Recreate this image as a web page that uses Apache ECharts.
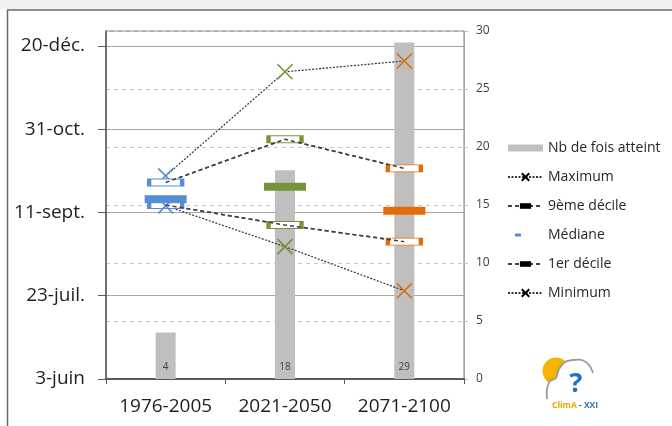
<!DOCTYPE html>
<html><head><meta charset="utf-8">
<script src="https://cdn.jsdelivr.net/npm/echarts@6/dist/echarts.min.js"></script>
<style>html,body{margin:0;padding:0;background:#fff}#c{width:672px;height:426px}</style>
</head><body><div id="c"></div>
<script>
// ---- data ----
const categories = ['1976-2005', '2021-2050', '2071-2100'];
const dateTickLabels = ['3-juin', '23-juil.', '11-sept.', '31-oct.', '20-déc.']; // every 50 days from 3 June
const countTickStep = 5;
// dates expressed as number of days after 3 June
const maximum = [122, 184.5, 191];
const decile9 = [118, 144, 126.5];
const mediane = [108, 115.5, 101];
const decile1 = [104.5, 92.5, 82.5];
const minimum = [104, 79.5, 53];
const nbAtteint = [4, 18, 29];

// ---- styles ----
const periodColors = ['#558ED5', '#77933C', '#E36C09'];
const FONT = 'Open Sans';
const X_PATH = 'path://M0,0L10,10M10,0L0,10';
const X_LEGEND = 'path://M-2.5,-2.5M0,0L10,10M10,0L0,10M12.5,12.5';
const BAR_ICON = 'path://M0,0M0,3.5h10v7h-10zM10,14';

const chart = echarts.init(document.getElementById('c'), null, {renderer: 'canvas'});

function xItems(arr) {
  return arr.map((v, i) => ({value: v, symbol: X_PATH, symbolSize: 15,
    itemStyle: {color: periodColors[i], borderColor: periodColors[i], borderWidth: 1.6}}));
}
function boxItems(arr) {
  return arr.map((v, i) => ({value: v, symbol: 'rect', symbolSize: [33, 7],
    itemStyle: {color: '#ffffff', borderColor: periodColors[i], borderWidth: 2}}));
}
const dotted = {color: '#333333', width: 1.2, type: [2, 1.5]};
const dashed = {color: '#404040', width: 1.5, type: [4, 3]};

const cloudPts = [[547,389],[550,381],[556,378],[559,369],[565,362],[573,360],[582,360],[589,365],[593,373]];

const option = {
  animation: false,
  backgroundColor: '#ffffff',
  textStyle: {fontFamily: FONT},
  graphic: [
    {type: 'rect', shape: {x: 0, y: 0, width: 672, height: 9}, style: {fill: '#f0f0f0'}, silent: true},
    {type: 'line', shape: {x1: 7, y1: 10, x2: 672, y2: 10}, style: {stroke: '#6b6b6b', lineWidth: 1.5}, silent: true},
    {type: 'line', shape: {x1: 7.5, y1: 10, x2: 7.5, y2: 426}, style: {stroke: '#6b6b6b', lineWidth: 1.5}, silent: true},
    // logo
    {type: 'circle', shape: {cx: 556, cy: 371, r: 13.5}, style: {fill: '#F5B400'}, silent: true},
    {type: 'polygon', shape: {points: [[547,399]].concat(cloudPts, [[593,399]]), smooth: 0.3},
      style: {fill: '#ffffff', stroke: 'none'}, silent: true},
    {type: 'polyline', shape: {points: [[547,399]].concat(cloudPts), smooth: 0.3},
      style: {fill: 'none', stroke: '#9a9a9a', lineWidth: 1.8}, silent: true},
    {type: 'text', style: {x: 576, y: 384, text: '?', fill: '#1F72C4', font: 'bold 27px Open Sans', textAlign: 'center', textVerticalAlign: 'middle'}, silent: true},
    {type: 'text', style: {x: 552, y: 406, text: 'ClimA', fill: '#F0A800', font: 'bold 8.5px Open Sans', textVerticalAlign: 'middle'}, silent: true},
    {type: 'text', style: {x: 579, y: 406, text: '- XXI', fill: '#2E74B5', font: 'bold 8.5px Open Sans', textVerticalAlign: 'middle'}, silent: true}
  ],
  legend: {
    orient: 'vertical', left: 507, top: 141, padding: 0, itemWidth: 35, itemHeight: 14, itemGap: 15,
    selectedMode: false,
    textStyle: {fontFamily: FONT, fontSize: 14, color: '#262626'},
    data: [
      {name: 'Nb de fois atteint', icon: 'path://M0,0M0,3.5h35v7h-35zM35,14'},
      'Maximum', '9ème décile',
      {name: 'Médiane', icon: 'path://M0,0M7,5.5h6v3h-6zM35,14', itemStyle: {color: '#558ED5', opacity: 1}},
      '1er décile', 'Minimum'
    ]
  },
  grid: {left: 106, right: 208, top: 31, bottom: 47, show: true, borderColor: '#808080', borderWidth: 1, backgroundColor: 'transparent'},
  xAxis: {
    type: 'category', data: categories, boundaryGap: true,
    axisLine: {lineStyle: {color: '#595959', width: 2}},
    axisTick: {show: true, length: 5, lineStyle: {color: '#595959'}},
    axisLabel: {fontFamily: FONT, fontSize: 19, color: '#1f1f1f', margin: 18, interval: 0}
  },
  yAxis: [
    {
      type: 'value', min: 0, max: 209, interval: 50, position: 'left',
      axisLine: {show: true, lineStyle: {color: '#595959', width: 1.5}},
      axisTick: {show: true, length: 8, lineStyle: {color: '#595959'}},
      axisLabel: {fontFamily: FONT, fontSize: 19, color: '#1f1f1f', margin: 21, showMaxLabel: false,
        formatter: v => (v % 50 === 0 ? (dateTickLabels[v / 50] || '') : '')},
      splitLine: {lineStyle: {color: '#a6a6a6', width: 1}}
    },
    {
      type: 'value', min: 0, max: 30, interval: countTickStep, position: 'right',
      axisLine: {show: true, lineStyle: {color: '#a6a6a6', width: 1}},
      axisTick: {show: true, length: 4, lineStyle: {color: '#bfbfbf'}},
      axisLabel: {fontFamily: FONT, fontSize: 12, color: '#404040', margin: 12},
      splitLine: {lineStyle: {color: '#c8c8c8', width: 1, type: [4, 4]}}
    }
  ],
  series: [
    {
      name: 'Nb de fois atteint', type: 'bar', yAxisIndex: 1, data: nbAtteint, barWidth: 20, z: 1,
      itemStyle: {color: '#bfbfbf'},
      label: {show: true, position: 'insideBottom', distance: 7, fontFamily: FONT, fontSize: 10, color: '#404040'}
    },
    {
      name: 'Maximum', type: 'line', yAxisIndex: 0, data: xItems(maximum), z: 2,
      symbol: X_LEGEND, symbolSize: 15, lineStyle: dotted,
      itemStyle: {color: '#000', borderColor: '#000', borderWidth: 1}
    },
    {
      name: '9ème décile', type: 'line', yAxisIndex: 0, data: boxItems(decile9), z: 2,
      symbol: BAR_ICON, symbolSize: 10, lineStyle: dashed,
      itemStyle: {color: '#000', borderColor: '#000', borderWidth: 0}
    },
    {
      name: 'Médiane', type: 'scatter', yAxisIndex: 0, z: 3,
      data: mediane.map((v, i) => ({value: v, itemStyle: {color: periodColors[i], opacity: 1}})),
      symbol: 'rect', symbolSize: [42, 8], itemStyle: {color: periodColors[0], opacity: 1}
    },
    {
      name: '1er décile', type: 'line', yAxisIndex: 0, data: boxItems(decile1), z: 2,
      symbol: BAR_ICON, symbolSize: 10, lineStyle: dashed,
      itemStyle: {color: '#000', borderColor: '#000', borderWidth: 0}
    },
    {
      name: 'Minimum', type: 'line', yAxisIndex: 0, data: xItems(minimum), z: 2,
      symbol: X_LEGEND, symbolSize: 15, lineStyle: dotted,
      itemStyle: {color: '#000', borderColor: '#000', borderWidth: 1}
    },
    // dashed lines drawn again over the decile boxes
    {name: 'd9-over', type: 'line', yAxisIndex: 0, data: decile9, symbol: 'none', z: 4, lineStyle: dashed, silent: true},
    {name: 'd1-over', type: 'line', yAxisIndex: 0, data: decile1, symbol: 'none', z: 4, lineStyle: dashed, silent: true}
  ]
};
chart.setOption(option);
</script>
</body></html>
